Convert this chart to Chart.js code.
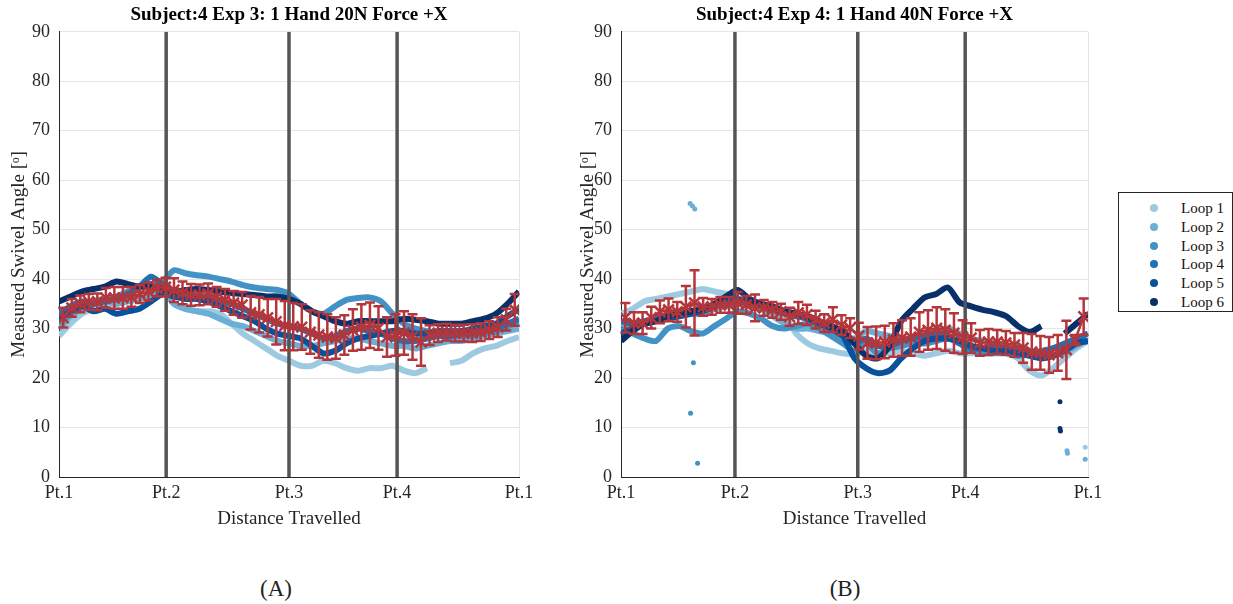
<!DOCTYPE html>
<html>
<head>
<meta charset="utf-8">
<script src="https://cdn.jsdelivr.net/npm/chart.js@4.4.1/dist/chart.umd.min.js"></script>
<style>
  html, body { margin: 0; padding: 0; background: #fff; }
  body { width: 1233px; height: 604px; position: relative; overflow: hidden; font-family: 'Liberation Serif', 'Times New Roman', serif; }
  .panel { position: absolute; top: 0; }
  .caption { position: absolute; top: 576px; width: 60px; text-align: center; font-size: 23px; line-height: 26px; color: #222; }
  #legend { position: absolute; left: 1118px; top: 192px; width: 113px; height: 118px; border: 1px solid #262626; background: #fff; }
  .item { position: absolute; left: 0; width: 100%; height: 18px; font-size: 15px; line-height: 18px; color: #111; }
  .dot { position: absolute; left: 31px; top: 5px; width: 8px; height: 8px; border-radius: 50%; }
  .lbl { position: absolute; left: 62px; top: 0; white-space: nowrap; }
</style>
</head>
<body>
<div class="panel" style="left:0px"><canvas id="expA" width="540" height="540"></canvas></div>
<div class="panel" style="left:562px"><canvas id="expB" width="560" height="540"></canvas></div>
<div class="caption" style="left:246px">(A)</div>
<div class="caption" style="left:815px">(B)</div>
<div id="legend"></div>
<script>
const ptLabels = ['Pt.1', 'Pt.2', 'Pt.3', 'Pt.4', 'Pt.1'];
const ptPosA = [0, 23.3, 50, 73.5, 100];
const ptPosB = [0, 24.4, 50.7, 73.7, 100];

const loopNames = ['Loop 1', 'Loop 2', 'Loop 3', 'Loop 4', 'Loop 5', 'Loop 6'];
const loopColors = ['#9ecae1', '#6baed6', '#4292c6', '#2171b5', '#08519c', '#08306b'];

// swivel angle per loop, one sample every 2.5 % of the path (null = no data)
const loopA1 = [28.5, 31, 33, 34, 34.5, 35, 35.5, 36, 36.5, 37.5, 35, 34, 33.5, 33.5, 33, 31, 29, 27.5, 26, 24.5, 23.5, 22.5, 22.5, 23.5, 23, 22, 21.5, 22, 22, 22.5, 21.5, 21, 22, null, 23, 23.5, 25, 26, 26.5, 27.5, 28.3];
const loopA2 = [30, 32.5, 34, 35, 35.5, 35, 35.5, 36, 37, 38, 35, 34, 33.5, 33, 32, 31, 30.5, 29.5, 28.5, 27.5, 27, 26.5, 26.5, 27, 27.5, 28, 28, 27.5, 27, 26.5, 26.5, 26, 26.5, 27, 27.5, 27.5, 28, 28.5, 29, 29.5, 30];
const loopA3 = [31, 33, 34.5, 35.5, 36, 36.5, 37.5, 38.5, 39, 39.5, 41.8, 41.2, 40.8, 40.5, 40, 39.5, 38.8, 38.3, 38, 37.8, 37, 35, 33.5, 33, 34.5, 35.8, 36.2, 36.3, 35.5, 33, 31, 30, 29.5, 29, 28.5, 28.5, 28.5, 29, 29.5, 30.5, 31.5];
const loopA4 = [33, 34.5, 35.5, 35, 35.5, 36, 37, 38.5, 40.5, 39, 37.5, 37, 36.5, 36, 35.5, 35, 34, 33, 32, 31, 30.5, 30, 29, 28, 28.5, 29.5, 30, 29.5, 29, 28, 27.5, 27.5, 28, 28.5, 28.5, 29, 29, 29.5, 30, 31, 32];
const loopA5 = [32, 33.5, 34.5, 33.5, 34, 33, 33.5, 34, 35.5, 37, 36.5, 36, 36, 35.5, 34.5, 33.5, 32.5, 31.5, 30, 29, 28.5, 28, 26.5, 25, 25.5, 27, 28, 28.5, 29, 29.5, 29.5, 29, 29, 29.5, 29.5, 29.5, 30, 30.5, 31, 32.5, 34];
const loopA6 = [35.5, 36.5, 37.5, 38, 38.5, 39.5, 39, 38.5, 38.5, 38, 37.5, 37.8, 38, 37.8, 37.5, 37.2, 37, 36.8, 36.5, 36.5, 36, 35, 33.5, 32.5, 31.5, 31, 31.5, 31.5, 31.5, 31.5, 32, 31.8, 31.5, 31, 31, 31, 31.5, 32, 33, 35, 37.5];

const loopB1 = [33, 34, 35.5, 36, 36.5, 37, 37.5, 38, 37.5, 37, 36, 35.5, 34, 33.5, 32.5, 29, 27, 26, 25.5, 25, 24.8, 25.5, 25, 25, 25.5, 25, 24.5, 25, 25.5, 25, 25, 25.5, 25.5, 25, 24, 21.5, 20.5, 22, 24, 26, 27.5];
const loopB2 = [31, 30.5, 31, 32, 33, 33.5, 33, 33, 34, 34.5, 35, 34.5, 34, 32.5, 31, 30, 30, 29.5, 29, 28.5, 28, 29.5, 29, 28.5, 28, 28, 29, 29.5, 30, 29, 28, 27.5, 27, 26.5, 26.5, 25.5, 24, 24.5, 25, 26.5, 28];
const loopB3 = [30, 29, 28, 27.5, 30, 30.5, 29.5, 29, 30.5, 32, 33.5, 33, 32, 30.5, 30, 30.5, 31, 30, 28.5, 27, 25.5, 27, 25, 26, 26.5, 27, 27, 27.5, 28, 27, 25.5, 25, 25, 25, 24.5, 25, 25.5, 26, 26.5, 27, 27.5];
const loopB4 = [31.5, 31, 31.5, 32, 32.5, 33, 33.5, 34, 34.5, 35, 35.5, 35, 34.5, 34, 33, 32.5, 32, 31, 30, 28.5, 27, 28, 26.5, 26.5, 27.5, 28, 28.5, 29, 28.5, 27, 26, 26, 26.5, 26, 25.5, 25, 25, 26, 27, 28, 29];
const loopB5 = [29, 30, 31, 31.5, 32, 32.5, 33, 33.5, 34.5, 36, 36, 35, 34.5, 34, 33.5, 33, 32, 31, 30, 28.5, 24, 22, 21, 21.5, 24, 26, 27.5, 28, 28, 27.5, 26.5, 26, 25.5, 25.5, 25, 24.5, 24, 24.5, 25.5, 27, 27.5];
const loopB6 = [27.5, 29.5, 31, 31.5, 32.5, 33, 33.5, 34, 35, 36.5, 37.8, 36, 35, 34.5, 33.5, 33, 32.5, 31.5, 30.5, 29.5, 27, 24.5, 24, 26.5, 31.5, 34, 36.3, 37, 38.3, 35.3, 34.5, 33.8, 33.3, 32.5, 30.5, 29.3, 30.5, null, 29, 31, 33];

// isolated samples in exp 4 (path %, angle, loop number)
const strayX = [14.8, 15.3, 15.8, 15.5, 14.9, 16.4, 94.0, 94.0, 94.1, 95.5, 95.6, 99.4, 99.4];
const strayY = [55.3, 54.8, 54.2, 23.1, 12.9, 2.8, 15.2, 9.8, 9.3, 5.3, 4.8, 6.0, 3.6];
const strayLoop = [2, 2, 2, 3, 3, 3, 6, 6, 6, 2, 2, 1, 2];

// mean and standard deviation over the loops, 54 bins along the path
const meanA = [32.2, 34.2, 35.0, 35.4, 35.4, 36.2, 36.2, 36.2, 36.4, 37.0, 37.5, 38.2, 38.4, 37.8, 37.2, 36.8, 36.8, 37.0, 36.4, 35.8, 35.2, 34.8, 33.2, 32.8, 32.2, 31.4, 30.6, 30.4, 30.3, 29.3, 28.7, 28.3, 28.1, 28.7, 29.7, 30.3, 30.7, 30.1, 28.3, 28.7, 29.1, 28.3, 27.3, 28.7, 29.1, 29.3, 29.1, 29.1, 29.1, 29.3, 29.7, 30.3, 31.8, 33.8];
const sdA = [2.0, 1.8, 1.7, 1.6, 1.7, 2.0, 2.2, 2.2, 2.0, 1.8, 1.8, 1.7, 1.9, 2.4, 2.3, 2.2, 2.1, 2.1, 2.0, 2.2, 2.4, 2.6, 3.4, 3.6, 3.8, 4.6, 5.0, 4.8, 4.6, 4.4, 4.6, 4.6, 4.2, 4.0, 4.2, 4.6, 4.6, 4.4, 4.0, 4.2, 4.4, 4.6, 4.8, 2.0, 1.8, 1.7, 1.7, 1.7, 1.8, 1.8, 1.8, 2.0, 2.2, 3.2];
const meanB = [32.2, 31.1, 31.1, 32.2, 33.4, 33.8, 33.4, 34.4, 35.2, 34.4, 34.4, 34.8, 34.8, 35.2, 34.8, 34.2, 34.2, 33.8, 33.4, 32.4, 33.2, 32.8, 31.8, 31.1, 31.8, 30.7, 30.1, 28.5, 27.1, 27.1, 27.3, 27.7, 28.1, 28.3, 29.3, 29.7, 30.1, 29.7, 29.1, 28.3, 28.1, 27.1, 27.3, 27.3, 27.1, 26.7, 26.1, 25.3, 25.1, 24.7, 25.1, 25.7, 27.7, 32.4];
const sdB = [3.0, 2.2, 2.2, 2.2, 2.3, 2.3, 2.0, 4.2, 6.6, 1.8, 1.6, 1.6, 1.6, 2.2, 1.8, 2.7, 1.6, 1.6, 1.6, 1.8, 2.2, 2.0, 1.8, 1.8, 2.5, 2.0, 2.0, 2.7, 3.2, 3.3, 3.3, 3.4, 3.6, 3.8, 4.0, 4.0, 4.2, 4.2, 4.0, 3.4, 3.0, 2.6, 2.6, 2.4, 2.4, 2.4, 3.0, 3.6, 3.4, 3.6, 3.6, 5.9, 1.0, 3.7];

const pathPos = loopA1.map((_, i) => i * 2.5);
const binPos = meanA.map((_, i) => (i + 0.5) / meanA.length * 100);

const FONT = "'Liberation Serif', 'Times New Roman', serif";
const INK = '#262626';
const RED = '#b4363a';

Chart.defaults.font.family = FONT;

// vertical error bars with caps, drawn for any dataset that carries `errors`
const errorBarPlugin = {
  id: 'errorBars',
  afterDatasetsDraw(chart) {
    const ctx = chart.ctx;
    const xs = chart.scales.x, ys = chart.scales.y;
    chart.data.datasets.forEach(ds => {
      if (!ds.errors) return;
      ctx.save();
      ctx.strokeStyle = ds.borderColor;
      ctx.lineWidth = 2.5;
      ds.data.forEach((p, i) => {
        const px = xs.getPixelForValue(p.x);
        const top = ys.getPixelForValue(p.y + ds.errors[i]);
        const bot = ys.getPixelForValue(p.y - ds.errors[i]);
        ctx.beginPath();
        ctx.moveTo(px, top); ctx.lineTo(px, bot);
        ctx.moveTo(px - 5, top); ctx.lineTo(px + 5, top);
        ctx.moveTo(px - 5, bot); ctx.lineTo(px + 5, bot);
        ctx.stroke();
      });
      ctx.restore();
    });
  }
};

function drawPanel(id, title, ptPos, loops, mean, sd, strays, rightPad, yTitlePad) {
  const datasets = [];
  loops.forEach((vals, k) => {
    datasets.push({
      label: loopNames[k],
      data: pathPos.map((x, i) => ({ x, y: vals[i] })),
      showLine: true,
      borderColor: loopColors[k],
      backgroundColor: loopColors[k],
      borderWidth: 6,
      pointRadius: 0,
      tension: 0.25,
      spanGaps: false,
      order: 8 - k
    });
  });
  if (strays) {
    strays.x.forEach((x, i) => {
      const c = loopColors[strays.loop[i] - 1];
      datasets.push({
        data: [{ x, y: strays.y[i] }],
        pointRadius: 2.5,
        pointBackgroundColor: c,
        pointBorderWidth: 0,
        order: 2
      });
    });
  }
  ptPos.slice(1, 4).forEach(p => {
    datasets.push({
      data: [{ x: p, y: 0 }, { x: p, y: 90 }],
      showLine: true,
      borderColor: '#555555',
      borderWidth: 3.5,
      pointRadius: 0,
      order: 1
    });
  });
  datasets.push({
    label: 'Mean',
    data: binPos.map((x, i) => ({ x, y: mean[i] })),
    errors: sd,
    showLine: true,
    borderColor: RED,
    borderWidth: 2.5,
    pointStyle: 'crossRot',
    pointRadius: 7.5,
    pointBorderWidth: 2.5,
    pointBorderColor: RED,
    order: 0
  });

  new Chart(document.getElementById(id), {
    type: 'scatter',
    data: { datasets },
    options: {
      responsive: false,
      animation: false,
      events: [],
      layout: { padding: { left: 0, right: rightPad, top: 0, bottom: 0 } },
      plugins: {
        legend: { display: false },
        tooltip: { enabled: false },
        title: {
          display: true,
          text: title,
          fullSize: false,
          color: '#000',
          font: { family: FONT, size: 19, weight: 'bold' },
          padding: { top: 4, bottom: 5 }
        }
      },
      scales: {
        x: {
          type: 'linear',
          min: 0,
          max: 100,
          afterBuildTicks: s => { s.ticks = ptPos.map(v => ({ value: v })); },
          afterFit: s => { s.height = 63; },
          ticks: {
            callback: (v, i) => ptLabels[i],
            autoSkip: false,
            maxRotation: 0,
            padding: 5,
            color: INK,
            font: { family: FONT, size: 18 }
          },
          grid: { color: '#e5e5e5', drawTicks: false },
          border: { color: INK, width: 1 },
          title: {
            display: true,
            text: 'Distance Travelled',
            color: INK,
            font: { family: FONT, size: 19 },
            padding: { top: 0, bottom: 10 }
          }
        },
        y: {
          min: 0,
          max: 90,
          afterFit: s => { s.width = 59; },
          ticks: {
            stepSize: 10,
            padding: 9,
            color: INK,
            font: { family: FONT, size: 18 }
          },
          grid: { color: '#e5e5e5', drawTicks: false },
          border: { color: INK, width: 1 },
          title: {
            display: true,
            text: 'Measured Swivel Angle [ᵒ]',
            color: INK,
            font: { family: FONT, size: 19 },
            padding: { top: yTitlePad, bottom: 0 }
          }
        }
      }
    },
    plugins: [errorBarPlugin]
  });
}

drawPanel('expA', 'Subject:4 Exp 3: 1 Hand 20N Force +X', ptPosA,
  [loopA1, loopA2, loopA3, loopA4, loopA5, loopA6], meanA, sdA, null, 21, 8);
drawPanel('expB', 'Subject:4 Exp 4: 1 Hand 40N Force +X', ptPosB,
  [loopB1, loopB2, loopB3, loopB4, loopB5, loopB6], meanB, sdB,
  { x: strayX, y: strayY, loop: strayLoop }, 34, 15);

// legend box
const legend = document.getElementById('legend');
loopNames.forEach((name, k) => {
  const row = document.createElement('div');
  row.className = 'item';
  row.style.top = (6 + k * 18.8) + 'px';
  row.innerHTML = '<span class="dot" style="background:' + loopColors[k] + '"></span><span class="lbl">' + name + '</span>';
  legend.appendChild(row);
});
</script>
</body>
</html>
